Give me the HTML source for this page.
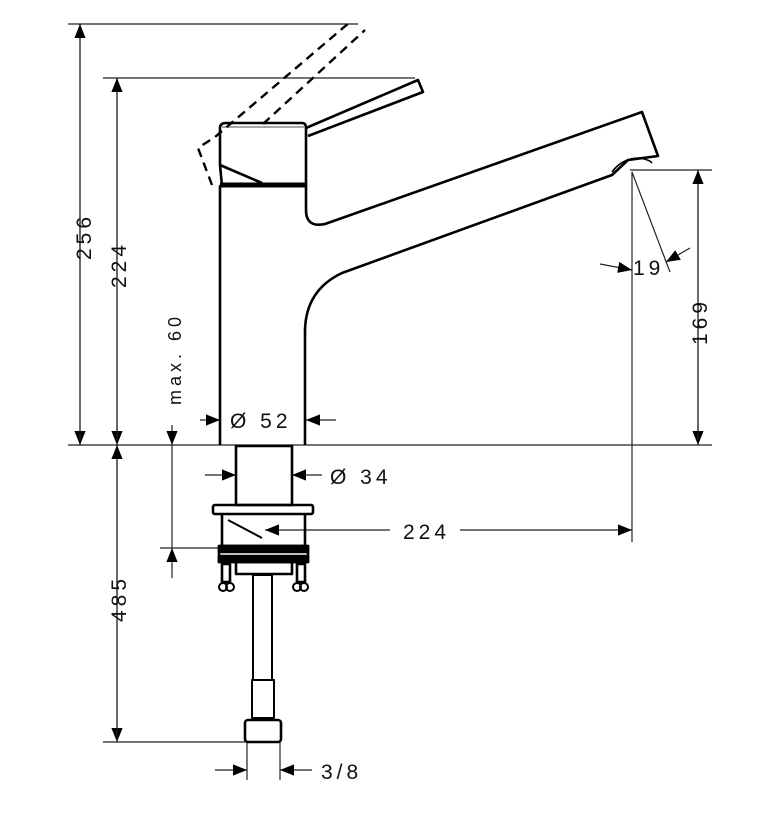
<!DOCTYPE html>
<html><head><style>body{margin:0;background:#fff}svg{display:block}text{font-family:"Liberation Sans",sans-serif;font-size:21px;fill:#111;letter-spacing:4px}</style></head><body>
<svg width="781" height="816" viewBox="0 0 781 816" xmlns="http://www.w3.org/2000/svg">
<defs><marker id="a" viewBox="0 0 10 10" refX="10" refY="5" markerWidth="14" markerHeight="14" markerUnits="userSpaceOnUse" orient="auto"><path d="M0,1L10,5L0,9z" fill="#000"/></marker></defs>
<g stroke="#222" stroke-width="1.2" fill="none">
<line x1="68" y1="24" x2="358" y2="24"/>
<line x1="103" y1="78" x2="415" y2="78"/>
<line x1="68" y1="445" x2="712" y2="445"/>
<line x1="630" y1="170" x2="712" y2="170"/>
<line x1="632" y1="172" x2="632" y2="542"/>
<line x1="632" y1="172" x2="670" y2="272"/>
<line x1="160" y1="548" x2="222" y2="548"/>
<line x1="103" y1="742" x2="245" y2="742"/>
<line x1="247" y1="742" x2="247" y2="780"/><line x1="280" y1="742" x2="280" y2="780"/>
<line x1="80" y1="24" x2="80" y2="445" marker-end="url(#a)"/><line x1="80" y1="440" x2="80" y2="24" marker-end="url(#a)"/>
<line x1="117" y1="78" x2="117" y2="445" marker-end="url(#a)"/><line x1="117" y1="440" x2="117" y2="78" marker-end="url(#a)"/>
<line x1="117" y1="445" x2="117" y2="742" marker-end="url(#a)"/><line x1="117" y1="740" x2="117" y2="445" marker-end="url(#a)"/>
<line x1="698" y1="170" x2="698" y2="445" marker-end="url(#a)"/><line x1="698" y1="440" x2="698" y2="170" marker-end="url(#a)"/>
<line x1="172" y1="425" x2="172" y2="445" marker-end="url(#a)"/><line x1="172" y1="578" x2="172" y2="548" marker-end="url(#a)"/><line x1="172" y1="445" x2="172" y2="548"/>
<line x1="200" y1="420" x2="220" y2="420" marker-end="url(#a)"/><line x1="336" y1="420" x2="306" y2="420" marker-end="url(#a)"/>
<line x1="205" y1="475" x2="236" y2="475" marker-end="url(#a)"/><line x1="322" y1="475" x2="292" y2="475" marker-end="url(#a)"/>
<line x1="390" y1="530" x2="265" y2="530" marker-end="url(#a)"/><line x1="460" y1="530" x2="632" y2="530" marker-end="url(#a)"/>
<line x1="215" y1="770" x2="247" y2="770" marker-end="url(#a)"/><line x1="312" y1="770" x2="280" y2="770" marker-end="url(#a)"/>
<line x1="600" y1="264" x2="632" y2="270" marker-end="url(#a)"/><line x1="690" y1="248" x2="666" y2="262" marker-end="url(#a)"/>
</g>
<g stroke="#000" stroke-width="2.6" fill="none" stroke-linejoin="round">
<path d="M220,445V186H306V210 Q306,228 325,224 L642,112 L658,156 L628,160 L612,175 L342,273 Q306,290 305,330 V445"/>
<path d="M222,186 L220,165 V128 Q220,123 226,123 H302 Q306,123 306,128 V186"/>
<path d="M220,165 L262,183"/>
<path d="M306,128 L418,80 L423,92 L308,136"/>
<path d="M612,172 Q622,158 640,158 Q650,160 652,163" stroke-width="1.6"/>
<rect x="236" y="446" width="56" height="59"/>
<rect x="213" y="505" width="100" height="9" rx="2"/>
<path d="M222,514V546H305V514"/>
<path d="M228,520 L262,538" stroke-width="2"/>
<rect x="219" y="546" width="89" height="16"/>
<rect x="219" y="546" width="89" height="6" fill="#000"/>
<rect x="219" y="556" width="89" height="6" fill="#000"/>
<rect x="222" y="564" width="8" height="18"/><rect x="297" y="564" width="8" height="18"/>
<rect x="236" y="562" width="56" height="12"/>
<rect x="253" y="575" width="19" height="105" stroke-width="2"/>
<rect x="252" y="680" width="22" height="38" stroke-width="2"/>
<rect x="245" y="720" width="36" height="22" rx="3"/>
<circle cx="223" cy="587" r="4" stroke-width="2"/><circle cx="230" cy="587" r="4" stroke-width="2"/>
<circle cx="297" cy="587" r="4" stroke-width="2"/><circle cx="304" cy="587" r="4" stroke-width="2"/>
</g>
<line x1="220" y1="185" x2="306" y2="185" stroke="#000" stroke-width="5"/>
<line x1="222" y1="127" x2="304" y2="127" stroke="#888" stroke-width="1.5"/>
<g stroke="#000" stroke-width="2.4" fill="none" stroke-dasharray="9,6">
<path d="M212,185 L198,148 L215,137 L350,22"/>
<path d="M263,124 L365,30"/>
</g>
<text x="230" y="428">Ø 52</text>
<text x="330" y="484">Ø 34</text>
<text x="403" y="539">224</text>
<text x="321" y="779">3/8</text>
<text x="633" y="275">19</text>
<text transform="translate(91,260) rotate(-90)">256</text>
<text transform="translate(126,288) rotate(-90)">224</text>
<text transform="translate(126,622) rotate(-90)">485</text>
<text transform="translate(181,405) rotate(-90)" style="font-size:18px">max. 60</text>
<text transform="translate(707,345) rotate(-90)">169</text>
</svg>
</body></html>
